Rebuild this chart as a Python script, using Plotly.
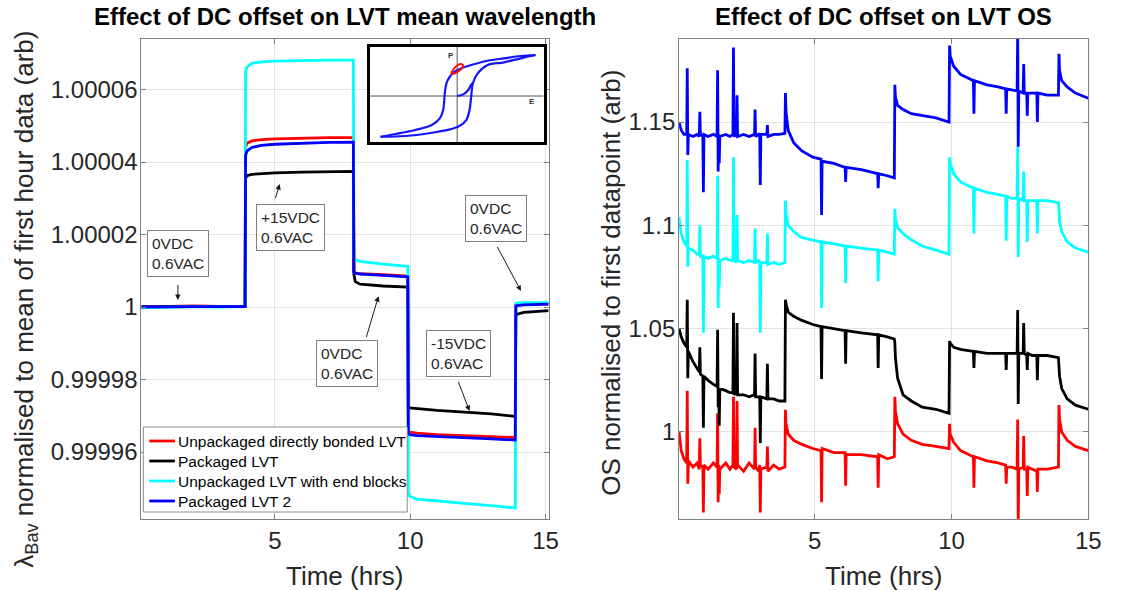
import plotly.graph_objs as go

# ---- Left panel: mean wavelength normalised to mean of first hour ----
t_wl = [0.07, 1.0, 2.0, 3.0, 3.90, 3.92, 3.97, 4.15, 4.5, 5.0, 6.0, 7.0, 7.90,
        7.92, 7.97, 8.15, 9.0, 9.91, 9.93, 9.98, 10.25, 11.0, 12.0, 13.0, 13.88,
        13.90, 13.95, 14.2, 15.11]

wl_unpackaged = [1.0000000, 1.0000002, 1.0000003, 1.0000002, 1.0000002,
                 1.0000440, 1.0000452, 1.0000458, 1.0000462, 1.0000464, 1.0000466, 1.0000467, 1.0000467,
                 1.0000098, 1.0000094, 1.0000092, 1.0000089, 1.0000085,
                 0.9999660, 0.9999655, 0.9999652, 0.9999648, 0.9999645, 0.9999642, 0.9999640,
                 1.0000005, 1.0000006, 1.0000007, 1.0000008]
wl_packaged = [1.0000000, 1.0000001, 1.0000001, 1.0000001, 1.0000001,
               1.0000355, 1.0000362, 1.0000366, 1.0000368, 1.0000370, 1.0000372, 1.0000373, 1.0000374,
               1.0000090, 1.0000070, 1.0000063, 1.0000058, 1.0000055,
               0.9999725, 0.9999722, 0.9999720, 0.9999715, 0.9999710, 0.9999705, 0.9999698,
               0.9999975, 0.9999980, 0.9999985, 0.9999990]
wl_endblocks = [0.9999998, 1.0000000, 1.0000001, 1.0000000, 1.0000001,
                1.0000650, 1.0000662, 1.0000672, 1.0000676, 1.0000678, 1.0000680, 1.0000681, 1.0000681,
                1.0000135, 1.0000130, 1.0000126, 1.0000118, 1.0000112,
                0.9999490, 0.9999478, 0.9999470, 0.9999464, 0.9999458, 0.9999452, 0.9999446,
                1.0000010, 1.0000011, 1.0000012, 1.0000012]
wl_packaged2 = [1.0000000, 1.0000001, 1.0000001, 1.0000001, 1.0000001,
                1.0000418, 1.0000430, 1.0000440, 1.0000446, 1.0000449, 1.0000452, 1.0000454, 1.0000455,
                1.0000096, 1.0000093, 1.0000091, 1.0000087, 1.0000083,
                0.9999652, 0.9999648, 0.9999645, 0.9999642, 0.9999639, 0.9999636, 0.9999633,
                1.0000003, 1.0000004, 1.0000006, 1.0000008]

wl_ticks = [0.99996, 0.99998, 1.0, 1.00002, 1.00004, 1.00006]
wl_ticktext = ['0.99996', '0.99998', '1', '1.00002', '1.00004', '1.00006']

# ---- Right panel: OS normalised to first datapoint ----
t_os = [0.04, 0.12, 0.22, 0.32, 0.34, 0.36, 0.38, 0.55, 0.70, 0.78, 0.80, 0.82, 0.91, 0.93, 0.95,
        1.10, 1.30, 1.43, 1.45, 1.47, 1.49, 1.51, 1.53, 1.75, 1.90, 2.01, 2.03, 2.05, 2.14, 2.16,
        2.18, 2.40, 2.60, 2.80, 2.82, 2.84, 2.95, 2.99, 3.01, 3.03, 3.25, 3.27, 3.29, 3.50, 3.70, 3.91,
        3.93, 3.95, 4.03, 4.23, 4.53, 4.93, 5.23, 5.25, 5.27, 5.70, 6.11, 6.13, 6.15, 6.70, 7.30,
        7.32, 7.34, 7.65, 7.91,
        7.93, 7.95, 8.03, 8.23, 8.53, 8.93, 9.43, 9.91,
        9.93, 9.95, 10.08, 10.33, 10.80, 10.82, 10.84, 11.30, 11.70, 11.98, 12.00, 12.02, 12.20,
        12.40, 12.42, 12.44, 12.46, 12.62, 12.64, 12.66, 12.75, 12.77, 12.79, 12.95, 13.12, 13.14,
        13.16, 13.50, 13.91,
        13.93, 13.95, 14.03, 14.23, 14.53, 15.00]

os_unpackaged = [1.000, 0.991, 0.987, 0.985, 1.020, 0.975, 0.986, 0.983, 0.985, 0.982, 0.997, 0.984,
                 0.983, 0.961, 0.984, 0.982, 0.985, 0.983, 1.009, 0.966, 0.984, 0.970, 0.982, 0.985,
                 0.982, 0.984, 1.017, 0.983, 0.982, 1.015, 0.984, 0.981, 0.985, 0.982, 1.002, 0.983,
                 0.981, 0.984, 0.961, 0.982, 0.983, 0.993, 0.981, 0.984, 0.982, 0.983,
                 1.0107, 1.004, 0.999, 0.996, 0.994, 0.992, 0.991, 0.966, 0.992, 0.990, 0.990, 0.974,
                 0.989, 0.989, 0.988, 0.973, 0.989, 0.987, 0.988,
                 1.017, 1.010, 1.004, 0.999, 0.996, 0.994, 0.993, 0.992,
                 1.004, 0.999, 0.995, 0.991, 0.988, 0.973, 0.988, 0.986, 0.985, 0.984, 0.975, 0.983,
                 0.983, 0.982, 1.006, 0.955, 0.982, 0.983, 0.998, 0.982, 0.982, 0.969, 0.983, 0.982,
                 0.981, 0.971, 0.982, 0.982, 0.983,
                 1.013, 1.006, 1.000, 0.996, 0.993, 0.991]
os_packaged = [1.050, 1.046, 1.043, 1.041, 1.064, 1.026, 1.039, 1.034, 1.031, 1.029, 1.041, 1.028,
               1.027, 1.002, 1.027, 1.025, 1.023, 1.022, 1.0495, 1.012, 1.021, 1.003, 1.021, 1.020,
               1.019, 1.019, 1.0577, 1.018, 1.019, 1.0527, 1.018, 1.018, 1.017, 1.018, 1.038, 1.017,
               1.017, 1.016, 0.9947, 1.017, 1.016, 1.033, 1.016, 1.016, 1.015, 1.015,
               1.064, 1.062, 1.058, 1.056, 1.054, 1.052, 1.051, 1.0256, 1.051, 1.050, 1.049, 1.033,
               1.049, 1.048, 1.047, 1.031, 1.047, 1.046, 1.045,
               1.043, 1.036, 1.026, 1.018, 1.015, 1.012, 1.011, 1.009,
               1.044, 1.043, 1.041, 1.040, 1.039, 1.031, 1.039, 1.038, 1.038, 1.038, 1.030, 1.038,
               1.038, 1.038, 1.059, 1.0135, 1.038, 1.038, 1.0527, 1.038, 1.037, 1.030, 1.038, 1.037,
               1.037, 1.025, 1.037, 1.037, 1.036,
               1.033, 1.027, 1.021, 1.016, 1.013, 1.011]
os_endblocks = [1.104, 1.096, 1.092, 1.090, 1.1316, 1.080, 1.089, 1.088, 1.086, 1.086, 1.100, 1.085,
                1.085, 1.048, 1.085, 1.084, 1.085, 1.084, 1.124, 1.060, 1.084, 1.070, 1.083, 1.084,
                1.083, 1.083, 1.133, 1.083, 1.082, 1.105, 1.083, 1.082, 1.083, 1.082, 1.0985, 1.082,
                1.083, 1.082, 1.048, 1.082, 1.082, 1.096, 1.081, 1.082, 1.081, 1.082,
                1.112, 1.106, 1.100, 1.097, 1.094, 1.093, 1.092, 1.060, 1.092, 1.091, 1.090, 1.072,
                1.090, 1.089, 1.088, 1.073, 1.088, 1.087, 1.086,
                1.108, 1.103, 1.099, 1.096, 1.093, 1.090, 1.088, 1.086,
                1.133, 1.130, 1.125, 1.121, 1.118, 1.096, 1.118, 1.116, 1.115, 1.114, 1.0925, 1.114,
                1.113, 1.113, 1.138, 1.0847, 1.113, 1.112, 1.126, 1.112, 1.112, 1.092, 1.112, 1.112,
                1.112, 1.096, 1.112, 1.112, 1.111,
                1.108, 1.102, 1.097, 1.092, 1.089, 1.087]
os_packaged2 = [1.150, 1.146, 1.144, 1.144, 1.176, 1.134, 1.144, 1.143, 1.144, 1.143, 1.155, 1.144,
                1.143, 1.116, 1.144, 1.143, 1.144, 1.143, 1.175, 1.126, 1.144, 1.130, 1.143, 1.144,
                1.143, 1.144, 1.186, 1.143, 1.144, 1.163, 1.143, 1.144, 1.143, 1.144, 1.156, 1.143,
                1.144, 1.143, 1.1195, 1.144, 1.144, 1.1485, 1.143, 1.144, 1.144, 1.1445,
                1.164, 1.155, 1.146, 1.140, 1.136, 1.133, 1.132, 1.105, 1.131, 1.130, 1.128, 1.121,
                1.128, 1.127, 1.125, 1.118, 1.125, 1.124, 1.123,
                1.168, 1.162, 1.158, 1.156, 1.154, 1.153, 1.152, 1.150,
                1.187, 1.182, 1.177, 1.173, 1.170, 1.154, 1.170, 1.168, 1.167, 1.166, 1.154, 1.166,
                1.1655, 1.165, 1.195, 1.138, 1.165, 1.164, 1.178, 1.164, 1.164, 1.153, 1.164, 1.164,
                1.164, 1.150, 1.164, 1.163, 1.163,
                1.183, 1.175, 1.170, 1.167, 1.164, 1.1615]

os_ticks = [1.0, 1.05, 1.1, 1.15]
os_ticktext = ['1', '1.05', '1.1', '1.15']

# ---- Inset: P-E hysteresis sketch (normalised E, P) ----
loop_upper_E = [0.90, 0.73, 0.54, 0.35, 0.161, 0.048, -0.028, -0.085, -0.123, -0.142, -0.161,
                -0.199, -0.293, -0.483, -0.710, -0.881]
loop_upper_P = [0.863, 0.842, 0.794, 0.743, 0.653, 0.583, 0.512, 0.406, 0.267, 0.057, -0.295,
                -0.469, -0.611, -0.716, -0.80, -0.857]
loop_lower_E = [-0.881, -0.597, -0.218, 0.009, 0.105, 0.142, 0.161, 0.180, 0.236, 0.35, 0.54, 0.73, 0.90]
loop_lower_P = [-0.857, -0.842, -0.752, -0.646, -0.505, -0.295, -0.015, 0.267, 0.478, 0.653, 0.709,
                0.794, 0.863]
virgin_E = [0.0, 0.07, 0.125, 0.165, 0.180]
virgin_P = [0.0, 0.035, 0.12, 0.25, 0.267]
minor_E = [-0.066, -0.048, -0.009, 0.040, 0.066, 0.055, 0.009, -0.048, -0.066]
minor_P = [0.478, 0.547, 0.632, 0.674, 0.653, 0.583, 0.512, 0.463, 0.478]
inset_E_range = [-1.006, 0.994]
inset_P_range = [-0.968, 1.032]

names = ['Unpackaged directly bonded LVT', 'Packaged LVT',
         'Unpackaged LVT with end blocks', 'Packaged LVT 2']
colors = ['#ff0000', '#000000', '#00ffff', '#0000ff']

FONT = 'Liberation Sans, Arial, sans-serif'
W, H = 1123, 590


def px(x):
    return x / W


def py(y):
    return 1 - y / H


fig = go.Figure()

# left panel traces
for name, color, y in zip(names, colors, [wl_unpackaged, wl_packaged, wl_endblocks, wl_packaged2]):
    fig.add_trace(go.Scatter(x=t_wl, y=y, mode='lines', name=name, showlegend=False,
                             line=dict(color=color, width=2.8), xaxis='x', yaxis='y'))

# right panel traces
for name, color, y in zip(names, colors, [os_unpackaged, os_packaged, os_endblocks, os_packaged2]):
    fig.add_trace(go.Scatter(x=t_os, y=y, mode='lines', name=name, showlegend=False,
                             line=dict(color=color, width=2.8), xaxis='x2', yaxis='y2'))

# inset: white backing (hides the left panel grid), its own E and P axes, then the loops
e0, e1 = inset_E_range
p0, p1 = inset_P_range
fig.add_trace(go.Scatter(x=[e0, e1, e1, e0, e0], y=[p0, p0, p1, p1, p0], mode='lines',
                         fill='toself', fillcolor='white', line=dict(width=0, color='white'),
                         showlegend=False, hoverinfo='skip', xaxis='x3', yaxis='y3'))
fig.add_trace(go.Scatter(x=[e0, e1], y=[0, 0], mode='lines', line=dict(color='#555555', width=1),
                         showlegend=False, hoverinfo='skip', xaxis='x3', yaxis='y3'))
fig.add_trace(go.Scatter(x=[0, 0], y=[p0, p1], mode='lines', line=dict(color='#555555', width=1),
                         showlegend=False, hoverinfo='skip', xaxis='x3', yaxis='y3'))
for ex, pp in [(loop_upper_E, loop_upper_P), (loop_lower_E, loop_lower_P), (virgin_E, virgin_P)]:
    fig.add_trace(go.Scatter(x=ex, y=pp, mode='lines', showlegend=False,
                             line=dict(color='#1414ff', width=2.2, shape='spline'),
                             xaxis='x3', yaxis='y3'))
fig.add_trace(go.Scatter(x=minor_E, y=minor_P, mode='lines', showlegend=False,
                         line=dict(color='#ff1010', width=2, shape='spline'),
                         xaxis='x3', yaxis='y3'))

axis_style = dict(showline=True, linecolor='#808080', linewidth=1, mirror='ticks',
                  ticks='inside', ticklen=5, tickcolor='#808080',
                  showgrid=True, gridcolor='#e3e3e3', zeroline=False,
                  tickfont=dict(family=FONT, size=24, color='#262626'))

y_dom = [py(519), py(39)]
fig.update_layout(
    width=W, height=H,
    margin=dict(l=0, r=0, t=0, b=0),
    paper_bgcolor='white', plot_bgcolor='white',
    font=dict(family=FONT, color='#262626'),
    showlegend=False,
    xaxis=dict(axis_style, domain=[px(143), px(555)], range=[0.07, 15.11],
               tickvals=[5, 10, 15], anchor='y'),
    yaxis=dict(axis_style, domain=y_dom, range=[0.99994152, 1.00007393],
               tickvals=wl_ticks, ticktext=wl_ticktext, anchor='x', ticklabelstandoff=-2),
    xaxis2=dict(axis_style, domain=[px(687), px(1101)], range=[0.04, 15.0],
                tickvals=[5, 10, 15], anchor='y2'),
    yaxis2=dict(axis_style, domain=y_dom, range=[0.95789, 1.19017],
                tickvals=os_ticks, ticktext=os_ticktext, anchor='x2', ticklabelstandoff=-2),
    xaxis3=dict(domain=[px(374), px(550)], range=inset_E_range, anchor='y3',
                showline=True, mirror=True, linecolor='black', linewidth=3,
                showgrid=False, zeroline=False, showticklabels=False, ticks=''),
    yaxis3=dict(domain=[py(142), py(47)], range=inset_P_range, anchor='x3',
                showline=True, mirror=True, linecolor='black', linewidth=3,
                showgrid=False, zeroline=False, showticklabels=False, ticks=''),
)

annotations = []
shapes = []

# panel titles
title_font = dict(family=FONT, size=24, color='#000000')
for txt, xc in [('<b>Effect of DC offset on LVT mean wavelength</b>', 349),
                ('<b>Effect of DC offset on LVT OS</b>', 894)]:
    annotations.append(dict(text=txt, xref='paper', yref='paper', x=px(xc), y=py(17),
                            xanchor='center', yanchor='middle', showarrow=False, font=title_font))

# axis titles
label_font = dict(family=FONT, size=26, color='#262626')
for xc in [349, 894]:
    annotations.append(dict(text='Time (hrs)', xref='paper', yref='paper', x=px(xc), y=py(576),
                            xanchor='center', yanchor='middle', showarrow=False, font=label_font))
annotations.append(dict(text='λ<sub>Bav</sub> normalised to mean of first hour data (arb)',
                        xref='paper', yref='paper', x=px(25), y=py(299),
                        xanchor='center', yanchor='middle',
                        textangle=-90, showarrow=False, font=label_font))
annotations.append(dict(text='OS normalised to first datapoint (arb)',
                        xref='paper', yref='paper', x=px(618), y=py(283),
                        xanchor='center', yanchor='middle',
                        textangle=-90, showarrow=False, font=label_font))

# legend box (drawn by hand to match the compact MATLAB legend)
shapes.append(dict(type='rect', xref='paper', yref='paper', x0=px(145), x1=px(412), y0=py(512), y1=py(427),
                   fillcolor='white', line=dict(color='#8c8c8c', width=1), layer='above'))
for i, (name, color) in enumerate(zip(names, colors)):
    row_y = 441 + 20 * i
    shapes.append(dict(type='line', xref='paper', yref='paper', x0=px(151), x1=px(177),
                       y0=py(row_y), y1=py(row_y), line=dict(color=color, width=2.8), layer='above'))
    annotations.append(dict(text=name, xref='paper', yref='paper', x=px(178), y=py(row_y),
                            xanchor='left', yanchor='middle', showarrow=False,
                            font=dict(family=FONT, size=15.5, color='#000000')))

# DC offset call-outs on the left panel
box_text = ['0VDC<br>0.6VAC', '+15VDC<br>0.6VAC', '0VDC<br>0.6VAC', '-15VDC<br>0.6VAC', '0VDC<br>0.6VAC']
box_t = [1.42, 5.58, 7.68, 11.79, 13.16]
box_v = [1.0000148, 1.0000218, 0.9999843, 0.9999873, 1.0000243]
tail_t = [1.42, 5.00, 8.36, 11.75, 13.18]
tail_v = [1.0000066, 1.0000295, 0.9999912, 0.9999799, 1.0000171]
tip_t = [1.42, 5.18, 8.83, 12.19, 14.09]
tip_v = [1.0000019, 1.0000339, 1.0000030, 0.9999713, 1.0000044]

for txt, bt, bv in zip(box_text, box_t, box_v):
    annotations.append(dict(text=txt, xref='x', yref='y', x=bt, y=bv, showarrow=False,
                            xanchor='center', yanchor='middle',
                            align='left', bgcolor='white', bordercolor='#7f7f7f', borderwidth=1,
                            borderpad=4, font=dict(family=FONT, size=15.5, color='#262626')))
for at, av, ht, hv in zip(tail_t, tail_v, tip_t, tip_v):
    annotations.append(dict(text=' ', xref='x', yref='y', x=ht, y=hv, ax=at, ay=av,
                            axref='x', ayref='y', showarrow=True, arrowhead=2, arrowsize=1.1,
                            arrowwidth=1, arrowcolor='#1a1a1a', font=dict(size=1)))

# inset axis letters
annotations.append(dict(text='<b>P</b>', xref='x3', yref='y3', x=-0.066, y=0.863, showarrow=False,
                        font=dict(family=FONT, size=8, color='#333333')))
annotations.append(dict(text='<b>E</b>', xref='x3', yref='y3', x=0.858, y=-0.12, showarrow=False,
                        font=dict(family=FONT, size=8, color='#333333')))

fig.update_layout(annotations=annotations, shapes=shapes)

fig.write_html("out.html", config={'displayModeBar': False},
               post_script="document.body.style.margin='0';")
